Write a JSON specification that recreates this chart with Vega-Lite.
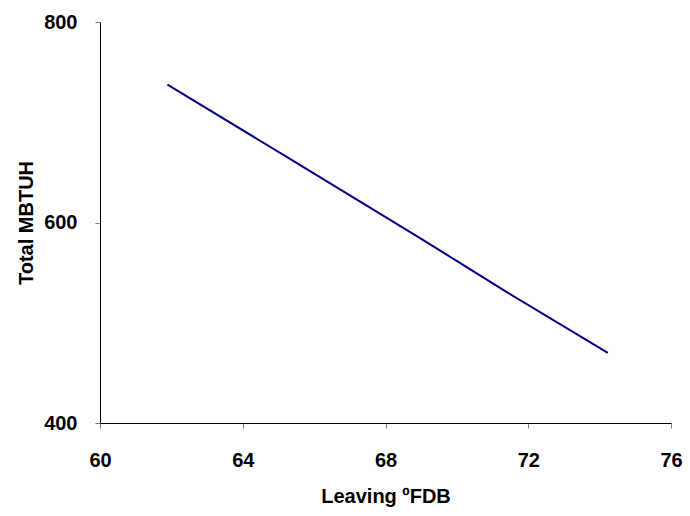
{
  "$schema": "https://vega.github.io/schema/vega-lite/v6.json",
  "autosize": "none",
  "padding": {"left": 100, "top": 22, "right": 19, "bottom": 93},
  "width": 571,
  "height": 401,
  "background": "white",
  "config": {
    "view": {"stroke": null},
    "font": "Liberation Sans",
    "axis": {
      "grid": false,
      "domainColor": "black",
      "domainWidth": 1,
      "tickColor": "#808080",
      "tickSize": 5,
      "labelFont": "Liberation Sans",
      "labelFontSize": 20,
      "labelFontWeight": "bold",
      "labelColor": "black",
      "titleFont": "Liberation Sans",
      "titleFontSize": 20,
      "titleFontWeight": "bold",
      "titleColor": "black"
    }
  },
  "data": {
    "values": [
      {"x": 61.89, "y": 737.5},
      {"x": 65.3, "y": 664},
      {"x": 68.9, "y": 586},
      {"x": 71.4, "y": 530.5},
      {"x": 74.23, "y": 470}
    ]
  },
  "mark": {"type": "line", "color": "#000080", "strokeWidth": 2},
  "encoding": {
    "x": {
      "field": "x",
      "type": "quantitative",
      "scale": {"domain": [60, 76], "nice": false, "zero": false},
      "axis": {"values": [60, 64, 68, 72, 76], "title": "Leaving ºFDB", "labelPadding": 22, "titleBaseline": "alphabetic", "titleY": 79, "labelFlush": false}
    },
    "y": {
      "field": "y",
      "type": "quantitative",
      "scale": {"domain": [400, 800], "nice": false, "zero": false},
      "axis": {"values": [400, 600, 800], "title": "Total MBTUH", "labelPadding": 18, "titleBaseline": "alphabetic", "titleX": -68, "titleY": 200.5, "labelFlush": false}
    }
  }
}
